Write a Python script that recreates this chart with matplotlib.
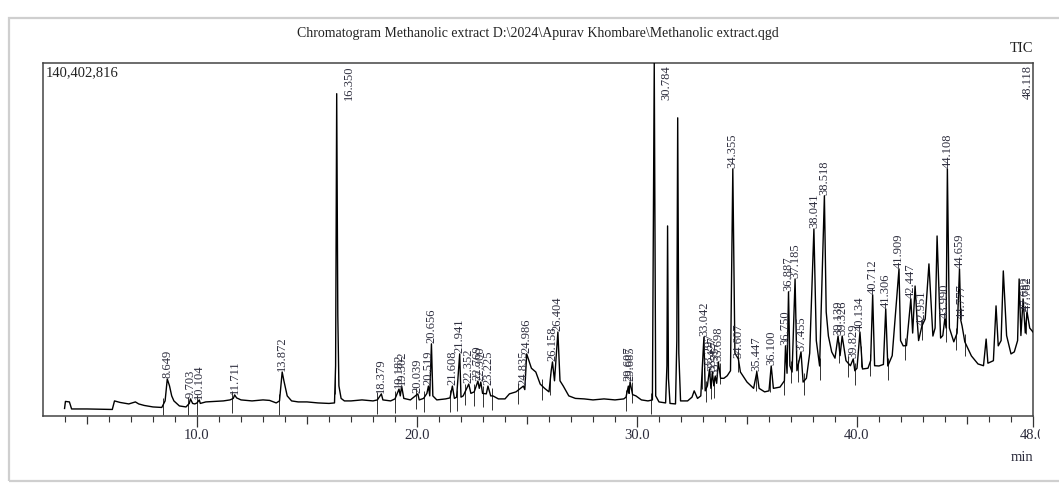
import numpy as np
import matplotlib
matplotlib.use("Agg")
from matplotlib import pyplot as plt
from matplotlib.patches import Rectangle

plt.rcParams["font.family"] = ["Liberation Serif", "DejaVu Serif"]

# retention time (min) and TIC intensity (millions of counts)
rt = [3.98, 4.02, 4.2, 4.3, 5.0, 6.0, 6.15, 6.25, 6.5, 6.9, 7.2, 7.35, 7.6, 8.0, 8.4,
      8.55, 8.649, 8.75, 8.85, 8.95, 9.2, 9.5, 9.65, 9.703, 9.8, 9.9, 10.0, 10.104, 10.15,
      10.4, 10.8, 11.2, 11.5, 11.65, 11.711, 11.8, 12.0, 12.5, 13.0, 13.3, 13.6, 13.75,
      13.872, 13.95, 14.1, 14.3, 14.6, 15.0, 15.5, 16.0, 16.25, 16.3, 16.35, 16.4, 16.45,
      16.55, 16.7, 17.0, 17.5, 18.0, 18.2, 18.379, 18.45, 18.8, 19.0, 19.182, 19.24, 19.302,
      19.4, 19.7, 20.039, 20.1, 20.3, 20.45, 20.519, 20.58, 20.656, 20.72, 20.9, 21.3, 21.5,
      21.608, 21.7, 21.8, 21.941, 22.0, 22.1, 22.352, 22.45, 22.6, 22.769, 22.83, 22.9, 22.98,
      23.15, 23.225, 23.35, 23.45, 23.7, 24.0, 24.2, 24.5, 24.835, 24.9, 24.986, 25.2, 25.4,
      25.6, 25.8, 26.0, 26.1, 26.158, 26.25, 26.404, 26.5, 26.65, 26.9, 27.2, 27.6, 28.0,
      28.5, 29.0, 29.4, 29.5, 29.607, 29.64, 29.685, 29.8, 29.95, 30.2, 30.5, 30.7, 30.784,
      30.85, 31.0, 31.3, 31.36, 31.39, 31.43, 31.5, 31.75, 31.81, 31.85, 31.9, 31.98, 32.3,
      32.5, 32.6, 32.75, 32.9, 33.042, 33.1, 33.2, 33.297, 33.36, 33.427, 33.49, 33.557,
      33.62, 33.698, 33.8, 33.95, 34.1, 34.25, 34.355, 34.45, 34.607, 34.7, 35.0, 35.3,
      35.447, 35.55, 35.8, 36.0, 36.1, 36.2, 36.5, 36.7, 36.75, 36.82, 36.887, 36.95, 37.05,
      37.185, 37.27, 37.455, 37.55, 37.7, 37.85, 38.041, 38.15, 38.3, 38.518, 38.6, 38.7,
      38.85, 39.0, 39.139, 39.23, 39.326, 39.5, 39.7, 39.829, 39.9, 40.0, 40.134, 40.25,
      40.5, 40.62, 40.712, 40.8, 41.0, 41.2, 41.306, 41.4, 41.6, 41.7, 41.909, 41.98, 42.1,
      42.25, 42.447, 42.53, 42.64, 42.72, 42.8, 42.951, 43.1, 43.27, 43.45, 43.55, 43.64,
      43.8, 43.9, 43.99, 44.05, 44.108, 44.2, 44.4, 44.55, 44.659, 44.72, 44.777, 44.9,
      45.2, 45.5, 45.75, 45.87, 45.95, 46.2, 46.32, 46.42, 46.55, 46.65, 46.8, 47.0, 47.15,
      47.3, 47.37, 47.45, 47.55, 47.65, 47.73, 47.85, 48.0]
intensity = [3.0, 5.8, 5.6, 2.8, 2.8, 2.6, 2.6, 6.0, 5.4, 4.8, 5.6, 4.8, 4.2, 3.6, 3.4,
             6.0, 14.7, 12.0, 8.0, 6.0, 4.0, 3.6, 5.0, 6.8, 5.0, 4.8, 5.2, 6.4, 5.0,
             5.6, 5.8, 6.0, 6.4, 7.0, 8.4, 7.2, 6.4, 6.0, 6.4, 6.2, 5.2, 6.0,
             17.5, 14.0, 8.0, 6.0, 5.6, 5.6, 5.2, 5.0, 5.2, 20.0, 128.2, 40.0, 12.0,
             7.0, 6.0, 6.0, 6.4, 6.0, 6.4, 8.8, 6.4, 6.0, 6.8, 10.7, 8.0, 11.9,
             7.0, 6.4, 8.8, 6.4, 7.0, 9.0, 11.9, 8.0, 28.7, 8.0, 6.4, 6.8, 7.2,
             11.9, 7.0, 7.5, 24.7, 7.5, 8.0, 12.7, 9.0, 9.6, 13.9, 11.0, 13.5, 9.0,
             8.8, 11.9, 8.0, 8.0, 6.8, 6.8, 8.8, 9.6, 11.9, 10.5, 24.7, 19.0, 17.5,
             12.7, 11.0, 9.6, 18.0, 21.5, 14.0, 33.4, 14.0, 11.9, 8.0, 7.0, 6.8, 6.4,
             6.8, 6.4, 6.8, 7.5, 11.9, 9.0, 13.5, 8.5, 8.0, 6.4, 6.0, 6.4, 140.4,
             8.0, 5.6, 5.2, 20.0, 75.6, 15.0, 5.0, 4.8, 30.0, 118.6, 25.0, 6.0, 6.0,
             7.5, 10.0, 7.0, 8.0, 31.4, 10.0, 12.0, 18.7, 11.0, 17.5, 12.0, 15.9,
             13.0, 21.5, 15.0, 15.0, 16.0, 18.0, 98.3, 25.0, 22.7, 17.5, 13.5, 11.0,
             17.5, 11.0, 9.6, 10.0, 19.9, 11.0, 11.5, 14.0, 27.9, 17.0, 49.4, 20.0, 17.5,
             54.5, 18.0, 25.5, 13.5, 15.0, 25.0, 74.4, 30.0, 19.9, 87.6, 41.4, 31.8,
             25.5, 23.0, 31.8, 24.0, 31.8, 22.0, 20.0, 22.7, 18.0, 19.0, 33.4, 18.7,
             19.0, 22.0, 48.2, 20.0, 19.9, 20.5, 42.6, 19.9, 24.0, 35.0, 58.5, 30.0, 27.9,
             28.0, 46.6, 33.0, 51.7, 40.0, 30.0, 35.8, 38.6, 60.5, 31.8, 35.0, 71.6,
             31.0, 32.0, 38.6, 35.0, 98.3, 35.0, 29.5, 33.0, 58.5, 38.0, 35.8, 29.5,
             23.9, 20.7, 20.0, 30.6, 21.0, 22.0, 43.8, 27.9, 30.0, 57.7, 32.0, 24.7, 25.5,
             30.0, 54.5, 32.0, 46.6, 33.0, 41.4, 35.0, 33.4]

peak_labels = ["8.649", "9.703", "10.104", "11.711", "13.872", "16.350", "18.379",
               "19.182", "19.302", "20.039", "20.519", "20.656", "21.608", "21.941",
               "22.352", "22.769", "22.900", "23.225", "24.835", "24.986", "26.158",
               "26.404", "29.607", "29.685", "30.784", "33.042", "33.297", "33.427",
               "33.557", "33.698", "34.355", "34.607", "35.447", "36.100", "36.750",
               "36.887", "37.185", "37.455", "38.041", "38.518", "39.139", "39.326",
               "39.829", "40.134", "40.712", "41.306", "41.909", "42.447", "42.951",
               "43.990", "44.108", "44.659", "44.777", "47.682", "47.782", "48.118"]

# integration start/end marks
event_times = [8.45, 9.6, 10.0, 11.6, 13.72, 16.28, 18.2, 19.0, 19.95, 20.3, 21.5, 21.8,
               22.2, 22.6, 23.0, 23.4, 24.6, 25.7, 26.05, 29.5, 29.75, 30.65, 32.95, 33.15,
               33.35, 33.5, 33.75, 34.6, 35.4, 36.05, 36.7, 37.0, 37.3, 37.6, 38.3, 39.2,
               39.6, 39.9, 40.2, 40.6, 41.4, 42.2, 42.95, 44.05, 44.5, 44.9, 47.7]

TOP = 140.402816
XMIN, XMAX = 3.0, 48.0

fig = plt.figure(figsize=(10.59, 4.85), dpi=100)
ax = fig.add_axes([43 / 1059, 68 / 485, 990 / 1059, 353 / 485])

ax.plot(rt, intensity, color="black", lw=1.0, zorder=3)

rt_arr = np.array(rt)
int_arr = np.array(intensity)
for t in event_times:
    y0 = np.interp(t, rt_arr, int_arr)
    ax.vlines(t, max(y0 - 5.5, 0.3), y0 + 3.0, color="#333333", lw=0.7, zorder=2)

for lab in peak_labels:
    t = float(lab)
    near = (rt_arr > t - 0.1) & (rt_arr < t + 0.1)
    apex = int_arr[near].max() if near.any() else TOP
    if apex + 17.0 < TOP:
        ax.annotate(lab, xy=(t, apex), xytext=(0, 1.5), textcoords="offset points",
                    rotation=90, ha="center", va="bottom", fontsize=9,
                    color="#2e2e3e", annotation_clip=False, zorder=4)
    else:
        # label hangs from the top, beside the off-scale peak
        dx = 8.5 if t < XMAX else -4
        ax.annotate(lab, xy=(min(t, XMAX), TOP), xytext=(dx, -1), textcoords="offset points",
                    rotation=90, ha="center", va="top", fontsize=9,
                    color="#2e2e3e", annotation_clip=False, zorder=4)

ax.set_xlim(XMIN, XMAX)
ax.set_ylim(0, TOP)
ax.set_yticks([])

major = [5, 10, 15, 20, 25, 30, 35, 40, 45, 48]
ax.set_xticks(major)
ax.set_xticklabels(["%.1f" % m if (m % 10 == 0 or m == 48) else "" for m in major])
ax.set_xticks(np.arange(4, 48, 1), minor=True)
ax.tick_params(axis="x", which="minor", length=4, width=0.8, color="#333333")
ax.tick_params(axis="x", which="major", width=0.9, color="#333333", labelsize=10.5,
               pad=5, labelcolor="#2a2a3a")
for m, tk in zip(major, ax.xaxis.get_major_ticks()):
    tk.tick1line.set_markersize(8 if (m % 10 == 0 or m == 48) else 5.5)

for s in ax.spines.values():
    s.set_color("#444444")
    s.set_linewidth(1.1)

ax.text(0.003, 0.995, "140,402,816", transform=ax.transAxes, ha="left", va="top",
        fontsize=10.5, color="#222222")

fig.text(538 / 1059, 1 - 33 / 485,
         "Chromatogram Methanolic extract D:\\2024\\Apurav Khombare\\Methanolic extract.qgd",
         ha="center", va="center", fontsize=10, color="#222222")
fig.text(1033 / 1059, 1 - 48 / 485, "TIC", ha="right", va="center", fontsize=10.5,
         color="#222222")
fig.text(1022 / 1059, 1 - 458 / 485, "min", ha="center", va="center", fontsize=10.5,
         color="#2a2a3a")

# window border of the screenshot
fig.patches.append(Rectangle((9 / 1059, 3 / 485), 1.2, 463 / 485, transform=fig.transFigure,
                             fill=False, edgecolor="#cfcfcf", lw=1.6, zorder=0))
# content clipped at the right edge of the window
fig.patches.append(Rectangle((1040 / 1059, 40 / 485), 19 / 1059, 420 / 485,
                             transform=fig.transFigure, facecolor="white",
                             edgecolor="none", zorder=5))

fig.savefig("out.png", dpi=100)
